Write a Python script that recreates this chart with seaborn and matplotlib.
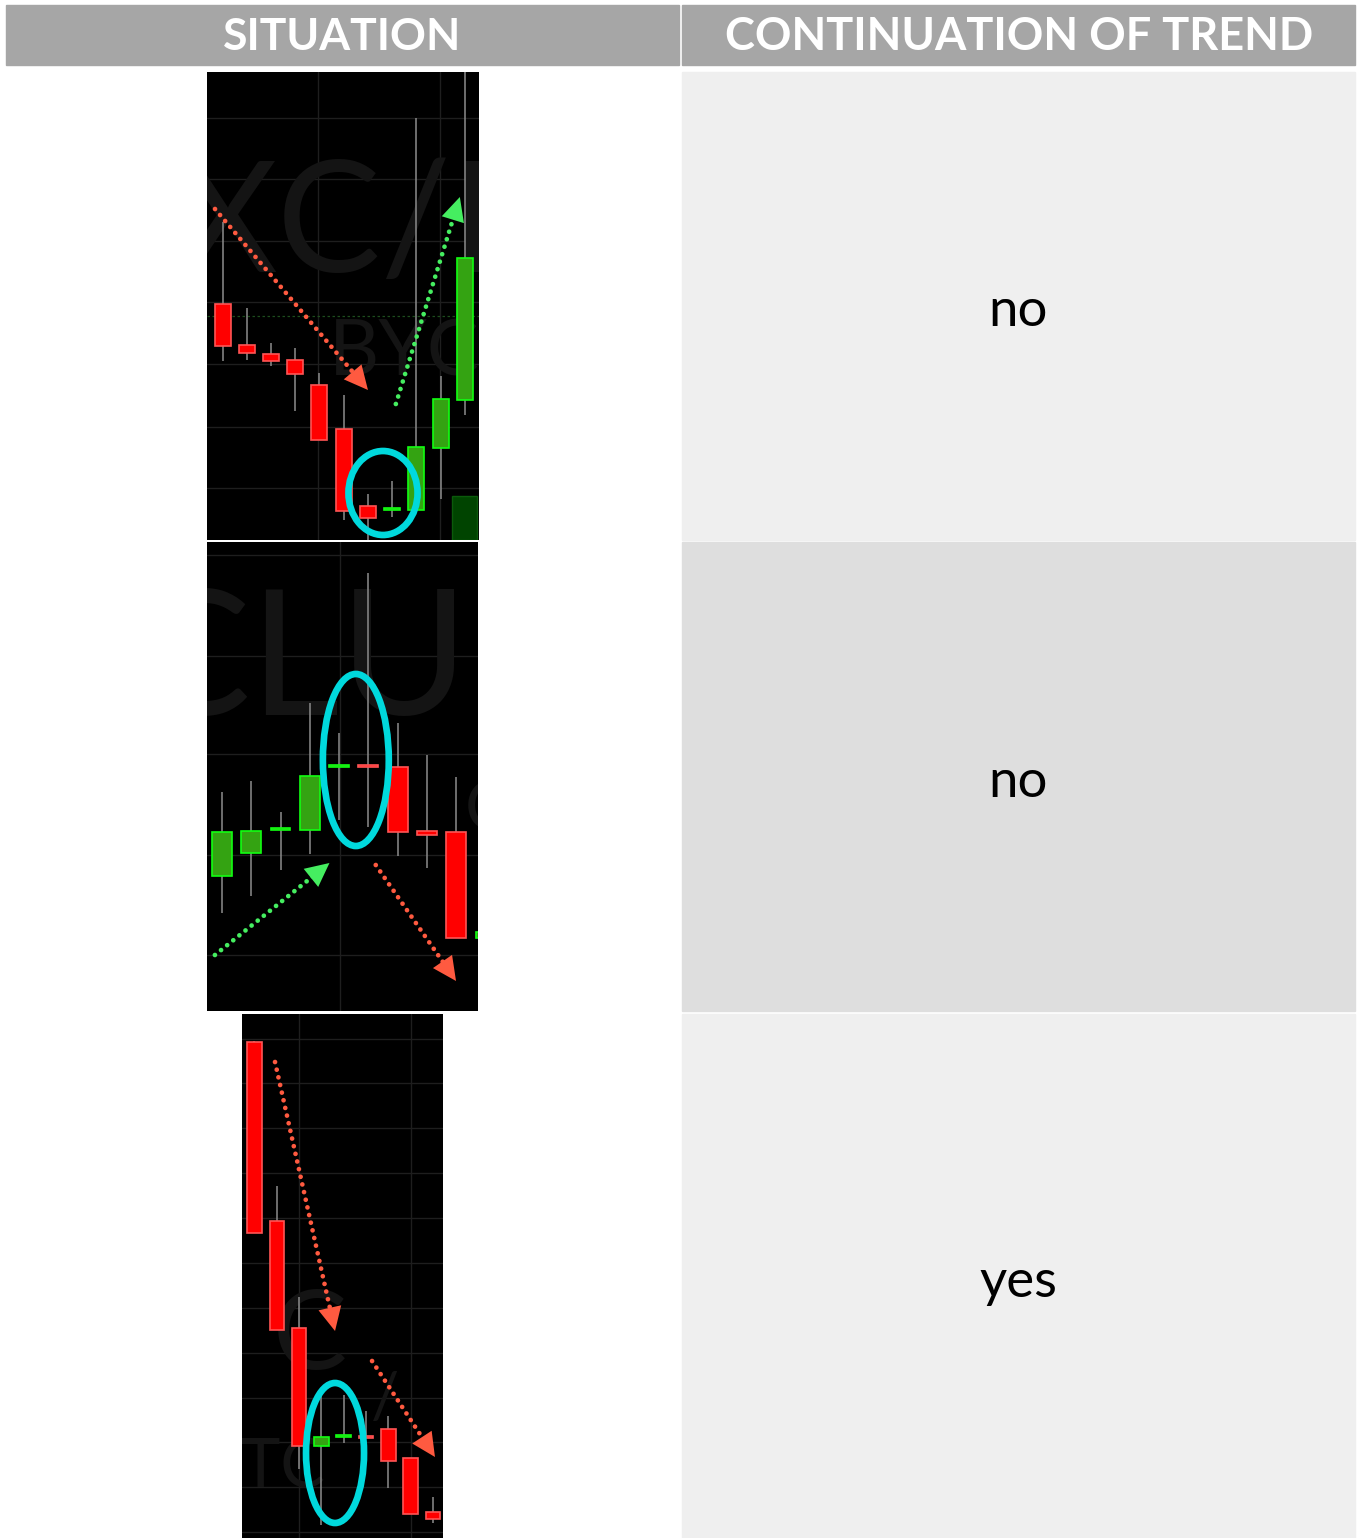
import matplotlib
matplotlib.use("Agg")
import matplotlib.pyplot as plt
from matplotlib.patches import Rectangle, Ellipse
import numpy as np
import seaborn as sns

sns.set_theme(style="dark")
plt.rcParams['font.family'] = ['Lato', 'DejaVu Sans']

# table text
headers = ["SITUATION", "CONTINUATION OF TREND"]
answers = ["no", "no", "yes"]

# chart 1: downtrend, doji, then reversal up
c1_open = [236, 195, 186, 180, 155, 111, 34, 30, 30, 92, 140]
c1_close = [194, 187, 179, 166, 100, 29, 22, 31, 93, 141, 282]
c1_high = [318, 232, 197, 192, 167, 145, 46, 59, 422, 164, 475]
c1_low = [179, 180, 174, 129, 100, 20, -5, 23, 30, 41, 125]
c1_last_volume = 44

# chart 2: uptrend, doji pair, then reversal down
c2_open = [135, 158, 181, 181, 244, 245, 244, 180, 179, 73]
c2_close = [179, 180, 182, 235, 245, 244, 179, 176, 73, 79]
c2_high = [219, 230, 199, 308, 278, 438, 288, 256, 234, 90]
c2_low = [98, 115, 141, 157, 191, 184, 155, 143, 73, 60]

# chart 3: downtrend, doji pair, trend continues
c3_open = [496, 317, 210, 92, 101, 102, 109, 80, 26]
c3_close = [305, 208, 92, 101, 102, 100, 77, 24, 19]
c3_high = [497, 352, 241, 143, 143, 127, 122, 80, 41]
c3_low = [305, 208, 69, 13, 95, 100, 50, 24, 15]

W, H = 1361, 1538
fig = plt.figure(figsize=(W / 100, H / 100), dpi=100)
fig.patch.set_facecolor("white")

# table background
bg = fig.add_axes([0, 0, 1, 1])
bg.set_xlim(0, W)
bg.set_ylim(H, 0)
bg.axis("off")
bg.add_patch(Rectangle((6, 5), 673, 60, color="#a6a6a6"))
bg.add_patch(Rectangle((682, 5), 673, 60, color="#a6a6a6"))
rows = [(72, 468, "#efefef"), (542, 469, "#dedede"), (1014, 524, "#efefef")]
for (top, h, col), ans in zip(rows, answers):
    bg.add_patch(Rectangle((682, top), 673, h, color=col))
    bg.text(1018, top + h / 2 + 6, ans, ha="center", va="center", fontsize=38, color="black")
bg.text(342, 37, headers[0], ha="center", va="center", fontsize=32, fontweight="bold", color="white")
bg.text(1019, 37, headers[1], ha="center", va="center", fontsize=32.5, fontweight="bold", color="white")

RED, RED_EDGE = "#ff0000", "#ff5555"
GREEN, GREEN_EDGE = "#34a312", "#11ff11"
WICK = "#8c8c8c"
CYAN = "#00d9dd"
MARK = "#141414"


def make_chart(px_box, xlim, ylim):
    x0, y0, w, h = px_box
    ax = fig.add_axes([x0 / W, 1 - (y0 + h) / H, w / W, h / H])
    ax.set_facecolor("black")
    ax.set_xlim(*xlim)
    ax.set_ylim(*ylim)
    ax.tick_params(left=False, bottom=False, labelleft=False, labelbottom=False)
    for s in ax.spines.values():
        s.set_visible(False)
    return ax


def watermark(ax, x, y, s, size):
    ax.text(x, y, s, fontsize=size, color=MARK, va="center", zorder=1, clip_on=True)


def candles(ax, o, c, hi, lo, width):
    for i in range(len(o)):
        up = c[i] >= o[i]
        ax.vlines(i, lo[i], hi[i], color=WICK, lw=1.1, zorder=2)
        body = max(abs(c[i] - o[i]), 2)
        ax.bar(i, body, bottom=min(o[i], c[i]), width=width,
               color=GREEN if up else RED, edgecolor=GREEN_EDGE if up else RED_EDGE,
               lw=1.2, zorder=3)


def dotted_arrow(ax, start, tip, color, scale=38):
    (xa, ya), (xb, yb) = start, tip
    p0 = ax.transData.transform(start)
    p1 = ax.transData.transform(tip)
    f = 1 - 17 / np.hypot(*(p1 - p0))
    ax.plot([xa, xa + f * (xb - xa)], [ya, ya + f * (yb - ya)], color=color,
            lw=3.4, ls=(0, (0.01, 1.65)), dash_capstyle="round", zorder=4)
    ax.annotate("", xy=tip, xytext=start,
                arrowprops=dict(arrowstyle="-|>,head_length=0.45,head_width=0.22", color=color,
                                lw=0, mutation_scale=scale, shrinkA=0, shrinkB=0), zorder=4)


def grid(ax, hs, vs):
    for y in hs:
        ax.axhline(y, color="#1e1e1e", lw=1, zorder=0.5)
    for x in vs:
        ax.axvline(x, color="#1e1e1e", lw=1, zorder=0.5)


# chart 1
ax1 = make_chart((207, 72, 272, 468), (-0.64, 10.58), (0, 468))
grid(ax1, [422, 361, 299, 238, 176, 113, 52], [3.94, 8.97])
ax1.axhline(224, color="#1d4d1d", lw=0.9, ls=(0, (2, 2)), zorder=0.6)
watermark(ax1, -1.9, 312, "XC/B", 112)
watermark(ax1, 4.4, 186, "BYC", 56)
ax1.bar(10, c1_last_volume, width=1.03, color="#004400", edgecolor="#0b5a0b", lw=1, zorder=2)
candles(ax1, c1_open, c1_close, c1_high, c1_low, 0.66)
dotted_arrow(ax1, (-0.31, 331), (6.0, 150), "#ff5a40")
dotted_arrow(ax1, (7.15, 136), (9.79, 343), "#45ee60")
ax1.add_patch(Ellipse((6.62, 47), 2.85, 84, fill=False, ec=CYAN, lw=4.8, zorder=5))

# chart 2
ax2 = make_chart((207, 542, 271, 469), (-0.51, 8.74), (0, 469))
grid(ax2, [456, 355, 257, 156, 56], [4.03])
watermark(ax2, -3.0, 345, "CLUB", 126)
watermark(ax2, 8.3, 200, "C", 50)
candles(ax2, c2_open, c2_close, c2_high, c2_low, 0.68)
dotted_arrow(ax2, (-0.24, 56), (3.67, 148), "#45ee60")
dotted_arrow(ax2, (5.25, 146), (7.99, 30), "#ff5a40")
ax2.add_patch(Ellipse((4.57, 251), 2.25, 172, fill=False, ec=CYAN, lw=4.8, zorder=5))

# chart 3
ax3 = make_chart((242, 1014, 201, 524), (-0.56, 8.45), (0, 524))
grid(ax3, [499, 455, 410, 365, 320, 275, 230, 185, 140, 96, 51, 6], [2.0, 7.02])
watermark(ax3, 0.8, 200, "C", 80)
watermark(ax3, 5.2, 138, "/", 45)
watermark(ax3, -0.6, 70, "TC", 48)
candles(ax3, c3_open, c3_close, c3_high, c3_low, 0.65)
dotted_arrow(ax3, (0.92, 476), (3.61, 207), "#ff5a40")
dotted_arrow(ax3, (5.27, 177), (8.09, 81), "#ff5a40")
ax3.add_patch(Ellipse((3.61, 85), 2.6, 140, fill=False, ec=CYAN, lw=4.8, zorder=5))

fig.savefig("out.png", dpi=100, facecolor="white")
